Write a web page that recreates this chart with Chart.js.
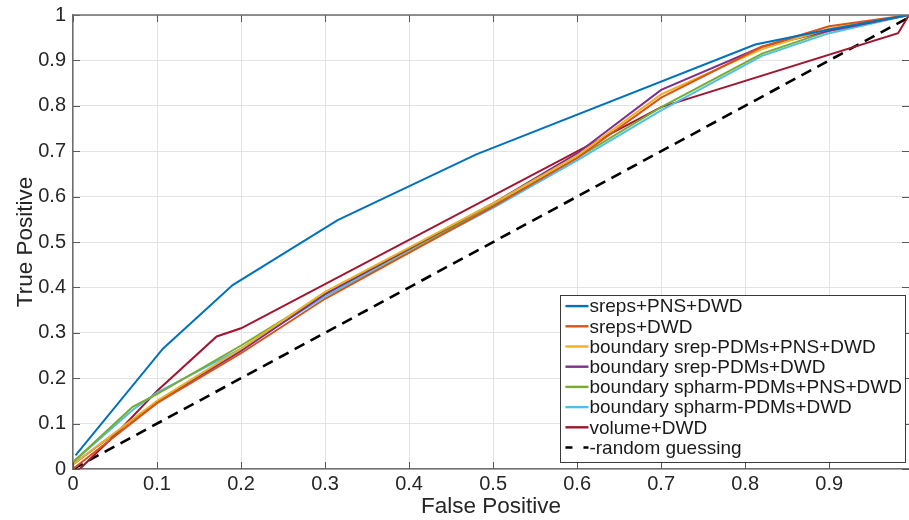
<!DOCTYPE html>
<html>
<head>
<meta charset="utf-8">
<script src="https://cdn.jsdelivr.net/npm/chart.js@4.4.0/dist/chart.umd.min.js"></script>
<style>
  html, body { margin: 0; padding: 0; background: #fff; }
  #wrap { width: 909px; height: 520px; }
</style>
</head>
<body>
<div id="wrap"><canvas id="roc"></canvas></div>
<script>
// ROC curve values (false positive rate -> true positive rate)
const xTicks = [0, 0.1, 0.2, 0.3, 0.4, 0.5, 0.6, 0.7, 0.8, 0.9];
const yTicks = [0, 0.1, 0.2, 0.3, 0.4, 0.5, 0.6, 0.7, 0.8, 0.9, 1];

const srepsPnsX = [0.003, 0.107, 0.19, 0.315, 0.48, 0.812, 0.9, 0.995];
const srepsPnsY = [0.03, 0.265, 0.405, 0.548, 0.693, 0.935, 0.968, 1];

const srepsX = [0, 0.1, 0.2, 0.3, 0.5, 0.6, 0.7, 0.82, 0.9, 0.995];
const srepsY = [0, 0.145, 0.255, 0.375, 0.578, 0.685, 0.818, 0.93, 0.975, 1];

const bSrepPnsX = [0, 0.1, 0.2, 0.3, 0.5, 0.6, 0.7, 0.82, 0.9, 0.995];
const bSrepPnsY = [0.01, 0.15, 0.265, 0.39, 0.585, 0.69, 0.825, 0.925, 0.97, 1];

const bSrepX = [0, 0.1, 0.2, 0.3, 0.5, 0.6, 0.7, 0.82, 0.9, 0.995];
const bSrepY = [0.01, 0.148, 0.26, 0.385, 0.585, 0.695, 0.835, 0.93, 0.965, 1];

const bSpharmPnsX = [0, 0.071, 0.1, 0.2, 0.3, 0.5, 0.6, 0.7, 0.82, 0.9, 0.995];
const bSpharmPnsY = [0.015, 0.137, 0.165, 0.272, 0.385, 0.58, 0.685, 0.797, 0.915, 0.965, 1];

const bSpharmX = [0, 0.071, 0.1, 0.2, 0.3, 0.5, 0.6, 0.7, 0.82, 0.9, 0.995];
const bSpharmY = [0.015, 0.13, 0.168, 0.265, 0.38, 0.575, 0.68, 0.79, 0.91, 0.96, 1];

const volumeX = [0.008, 0.05, 0.1, 0.171, 0.2, 0.7, 0.982, 0.995];
const volumeY = [0, 0.075, 0.172, 0.292, 0.31, 0.797, 0.96, 1];

const randomX = [0, 1];
const randomY = [0, 1];

const seriesLabels = [
  'sreps+PNS+DWD',
  'sreps+DWD',
  'boundary srep-PDMs+PNS+DWD',
  'boundary srep-PDMs+DWD',
  'boundary spharm-PDMs+PNS+DWD',
  'boundary spharm-PDMs+DWD',
  'volume+DWD',
  '-random guessing'
];
const seriesX = [srepsPnsX, srepsX, bSrepPnsX, bSrepX, bSpharmPnsX, bSpharmX, volumeX, randomX];
const seriesY = [srepsPnsY, srepsY, bSrepPnsY, bSrepY, bSpharmPnsY, bSpharmY, volumeY, randomY];
const colors = ['#0072BD', '#D95319', '#EDB120', '#7E2F8E', '#77AC30', '#4DBEEE', '#A2142F', '#000000'];

const FONT = '"Liberation Sans", Arial, Helvetica, sans-serif';

const datasets = seriesLabels.map((label, i) => ({
  label,
  data: seriesX[i].map((x, j) => ({ x, y: seriesY[i][j] })),
  borderColor: colors[i],
  backgroundColor: colors[i],
  borderWidth: i === 7 ? 2.6 : 2,
  borderDash: i === 7 ? [11, 7] : [],
  pointRadius: 0,
  tension: 0,
  fill: false,
  order: i
}));

const innerTicks = {
  id: 'innerTicks',
  afterDraw(chart) {
    const { ctx, chartArea: a, scales } = chart;
    ctx.save();
    ctx.strokeStyle = '#5a5a5a';
    ctx.lineWidth = 1;
    const len = 7;
    xTicks.forEach(v => {
      const px = Math.round(scales.x.getPixelForValue(v)) + 0.5;
      ctx.beginPath();
      ctx.moveTo(px, a.bottom); ctx.lineTo(px, a.bottom - len);
      ctx.moveTo(px, a.top); ctx.lineTo(px, a.top + len);
      ctx.stroke();
    });
    yTicks.forEach(v => {
      const py = Math.round(scales.y.getPixelForValue(v)) + 0.5;
      ctx.beginPath();
      ctx.moveTo(a.left, py); ctx.lineTo(a.left + len, py);
      ctx.moveTo(a.right, py); ctx.lineTo(a.right - len, py);
      ctx.stroke();
    });
    // top edge of the box
    ctx.strokeStyle = '#6e6e6e';
    ctx.lineWidth = 1.5;
    ctx.beginPath();
    ctx.moveTo(a.left, a.top); ctx.lineTo(a.right, a.top);
    ctx.stroke();
    ctx.restore();
  }
};

const boxLegend = {
  id: 'boxLegend',
  afterDraw(chart) {
    const { ctx, chartArea: a } = chart;
    const ds = chart.data.datasets;
    ctx.save();
    ctx.font = '19px ' + FONT;
    const maxText = Math.max(...ds.map(d => ctx.measureText(d.label).width));
    const rowH = 20.2;
    const w = 5 + 23 + 1 + maxText + 3;
    const h = ds.length * rowH + 5;
    const x0 = a.right - 4 - w;
    const y0 = a.bottom - 7 - h;
    ctx.fillStyle = '#fff';
    ctx.fillRect(x0, y0, w, h);
    ctx.strokeStyle = '#3a3a3a';
    ctx.lineWidth = 1;
    ctx.strokeRect(Math.round(x0) + 0.5, Math.round(y0) + 0.5, Math.round(w), Math.round(h));
    ds.forEach((d, i) => {
      const cy = y0 + 10.7 + i * rowH;
      ctx.strokeStyle = d.borderColor;
      ctx.lineWidth = 2.4;
      ctx.setLineDash(i === 7 ? [7, 11] : []);
      ctx.beginPath();
      ctx.moveTo(x0 + 5, cy); ctx.lineTo(x0 + 28, cy);
      ctx.stroke();
      ctx.fillStyle = '#1a1a1a';
      ctx.textBaseline = 'middle';
      ctx.fillText(d.label, x0 + 29, cy + 1);
    });
    ctx.restore();
  }
};

new Chart(document.getElementById('roc'), {
  type: 'line',
  data: { datasets },
  plugins: [innerTicks, boxLegend],
  options: {
    responsive: true,
    maintainAspectRatio: false,
    animation: false,
    layout: { padding: { top: 15, right: 0, left: 0, bottom: 0 } },
    plugins: { legend: { display: false }, tooltip: { enabled: false } },
    scales: {
      x: {
        type: 'linear',
        min: 0,
        max: 0.995,
        afterBuildTicks(scale) { scale.ticks = xTicks.map(v => ({ value: v })); },
        afterFit(scale) {
          scale.height = 51;
          scale.paddingLeft = 0; scale.paddingRight = 0;
        },
        ticks: {
          color: '#262626',
          font: { family: FONT, size: 20 },
          padding: 3,
          maxRotation: 0,
          callback: v => String(v)
        },
        grid: { color: '#e3e3e3', lineWidth: 1, drawTicks: false },
        border: { color: '#6e6e6e', width: 1.5 },
        title: {
          display: true,
          text: 'False Positive',
          color: '#262626',
          font: { family: FONT, size: 22.5 },
          padding: { top: 0, bottom: 0 }
        }
      },
      y: {
        type: 'linear',
        min: 0,
        max: 1,
        afterBuildTicks(scale) { scale.ticks = yTicks.map(v => ({ value: v })); },
        afterFit(scale) {
          scale.width = 73;
          scale.paddingTop = 0; scale.paddingBottom = 0;
        },
        ticks: {
          color: '#262626',
          font: { family: FONT, size: 20 },
          padding: 7,
          callback: v => String(v)
        },
        grid: { color: '#e3e3e3', lineWidth: 1, drawTicks: false },
        border: { color: '#6e6e6e', width: 1.5 },
        title: {
          display: true,
          text: 'True Positive',
          color: '#262626',
          font: { family: FONT, size: 22.5 },
          padding: { top: 12, bottom: 0 }
        }
      }
    }
  }
});
</script>
</body>
</html>
